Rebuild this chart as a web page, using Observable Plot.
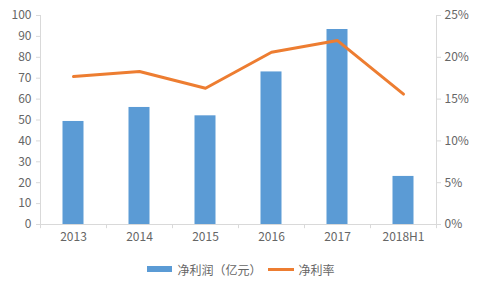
<!DOCTYPE html>
<html><head><meta charset="utf-8">
<script src="https://cdn.jsdelivr.net/npm/d3@7"></script>
<script src="https://cdn.jsdelivr.net/npm/@observablehq/plot@0.6"></script>
<style>
body{margin:0;background:#fff;font-family:"Noto Sans CJK SC","Noto Sans",sans-serif;}
#legend{display:flex;justify-content:center;align-items:center;font-size:12px;color:#666;height:30px;margin-top:4px;padding-left:2px;}
.sw{display:inline-block;margin-right:5px;}
</style></head><body>
<div id="chart"></div>
<div id="legend">
  <span class="sw" style="width:25px;height:6px;background:#5B9BD5"></span><span>净利润（亿元）</span>
  <span class="sw" style="width:26px;height:3px;background:#ED7D31;margin-left:6px"></span><span>净利率</span>
</div>
<script>
const categories = ["2013","2014","2015","2016","2017","2018H1"];
const profit = [49.3, 56, 52, 73, 93.3, 23];
const margin = [17.7, 18.3, 16.3, 20.6, 22.0, 15.6];
const leftTicks = [0,10,20,30,40,50,60,70,80,90,100];
const rightTicks = [0,5,10,15,20,25];

const data = categories.map((c,i)=>({c, p: profit[i], m: margin[i]}));
const W = 480, H = 250, mL = 40, mR = 44;
const step = (W - mL - mR) / categories.length;
const gray = "#666", axisGray = "#d9d9d9";

const chart = Plot.plot({
  width: W, height: H,
  marginLeft: mL, marginRight: mR, marginTop: 15, marginBottom: 26,
  style: {fontFamily: '"Noto Sans CJK SC","Noto Sans",sans-serif', fontSize: "12px", color: gray, background: "#fff"},
  x: {domain: categories, padding: 0},
  y: {domain: [0, 100]},
  marks: [
    Plot.ruleY([0], {stroke: axisGray}),
    Plot.ruleX([categories[0]], {y1: 0, y2: 100, dx: -step/2, stroke: axisGray}),
    Plot.ruleX([categories[categories.length-1]], {y1: 0, y2: 100, dx: step/2, stroke: axisGray}),
    Plot.ruleX(categories, {y1: 0, y2: -2, dx: -step/2, stroke: axisGray}),
    Plot.ruleX([categories[categories.length-1]], {y1: 0, y2: -2, dx: step/2, stroke: axisGray}),
    Plot.barY(data, {x: "c", y: "p", fill: "#5B9BD5", insetLeft: 22.5, insetRight: 22.5}),
    Plot.line(data, {x: "c", y: d => d.m * 4, stroke: "#ED7D31", strokeWidth: 3, strokeLinejoin: "round", strokeLinecap: "round"}),
    Plot.axisX({tickSize: 0, tickPadding: 8, label: null, fill: gray, fontSize: 12}),
    Plot.axisY({ticks: leftTicks, tickSize: 4, tickPadding: 5, stroke: axisGray, label: null, fill: gray, fontSize: 12}),
    Plot.axisY({anchor: "right", ticks: rightTicks.map(v => v*4), tickFormat: v => (v/4) + "%", tickSize: 4, tickPadding: 4, stroke: axisGray, label: null, fill: gray, fontSize: 12})
  ]
});
document.getElementById("chart").appendChild(chart);
</script>
</body></html>
